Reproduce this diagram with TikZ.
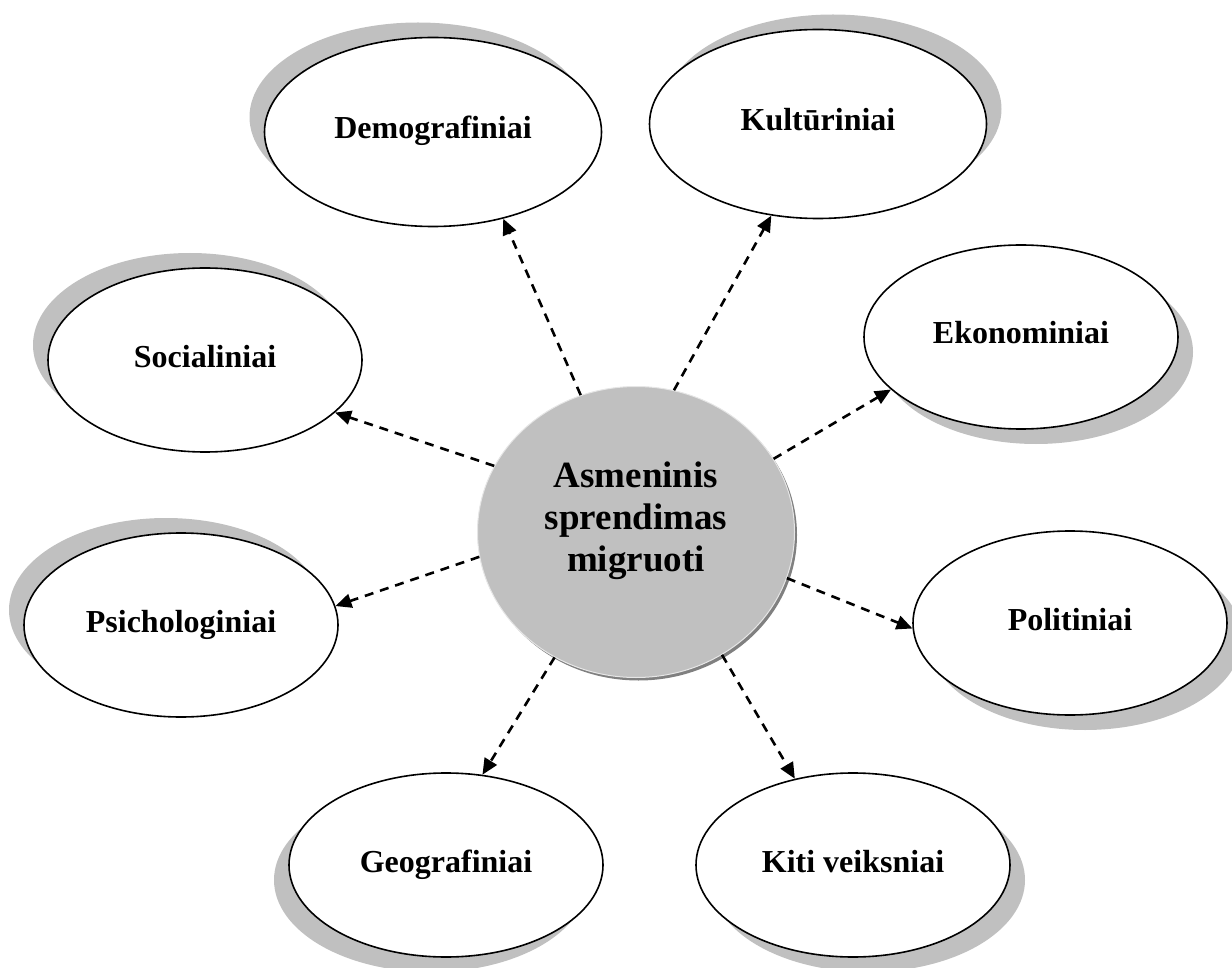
\documentclass[tikz,border=0pt]{standalone}
\usepackage{fontspec}
\setmainfont{Liberation Serif}
\usetikzlibrary{shapes.geometric, shadows, arrows.meta}
\definecolor{shade}{RGB}{192,192,192}
\definecolor{rim}{RGB}{128,128,128}

\begin{document}
\begin{tikzpicture}[x=1pt, y=-1pt,
	factor/.style={ellipse, draw, line width=1.6pt, fill=white, inner sep=0pt,
		minimum width=314pt, minimum height=184pt,
		font=\fontsize{32}{36}\selectfont\bfseries, text height=21pt, text depth=7pt},
	wide/.style={minimum width=337pt, minimum height=189pt},
	ul/.style={drop shadow={shadow xshift=-15pt, shadow yshift=15pt, fill=shade, opacity=1}},
	ur/.style={drop shadow={shadow xshift=15pt, shadow yshift=15pt, fill=shade, opacity=1}},
	dl/.style={drop shadow={shadow xshift=-15pt, shadow yshift=-15pt, fill=shade, opacity=1}},
	dr/.style={drop shadow={shadow xshift=15pt, shadow yshift=-15pt, fill=shade, opacity=1}},
	hub/.style={ellipse, fill=shade, draw=white!80!rim, line width=1pt,
		minimum width=317pt, minimum height=291pt,
		drop shadow={shadow xshift=2.5pt, shadow yshift=-3pt, fill=rim, opacity=1}},
	hubtext/.style={align=center, font=\fontsize{37}{42}\selectfont\bfseries},
	link/.style={-{Triangle[length=16pt,width=14pt]}, dash pattern=on 9pt off 7pt, line width=2.6pt}]

\useasboundingbox (0,0) rectangle (1232,968);

% factors
\node[factor, wide, ul] (demo) at (433,132) {Demografiniai};
\node[factor, wide, ur] (kult) at (818,124) {Kult\=uriniai};
\node[factor, dr] (econ) at (1021,337) {Ekonominiai};
\node[factor, ul] (soc) at (205,360) {Socialiniai};
\node[factor, ul] (psych) at (181,625) {Psichologiniai};
\node[factor, dr] (pol) at (1070,623) {Politiniai};
\node[factor, dl] (geo) at (446,865) {Geografiniai};
\node[factor, dr] (kiti) at (853,865) {Kiti veiksniai};

% centre
\node[hub] (hub) at (636,532) {};
\node[hubtext] (hubtxt) at (636,521) {Asmeninis\\sprendimas\\migruoti};

\draw[link] (hub.112) -- (demo.309);
\draw[link] (hub.75) -- (kult.243);
\draw[link] (hub.28) -- (econ.202);
\draw[link] (hub.155) -- (soc.338);
\draw[link] (hub.189) -- (psych.7);
\draw[link] (hub.343) -- (pol.182);
\draw[link] (hub.237) -- (geo.68);
\draw[link] (hub.305) -- (kiti.124);
\end{tikzpicture}
\end{document}
